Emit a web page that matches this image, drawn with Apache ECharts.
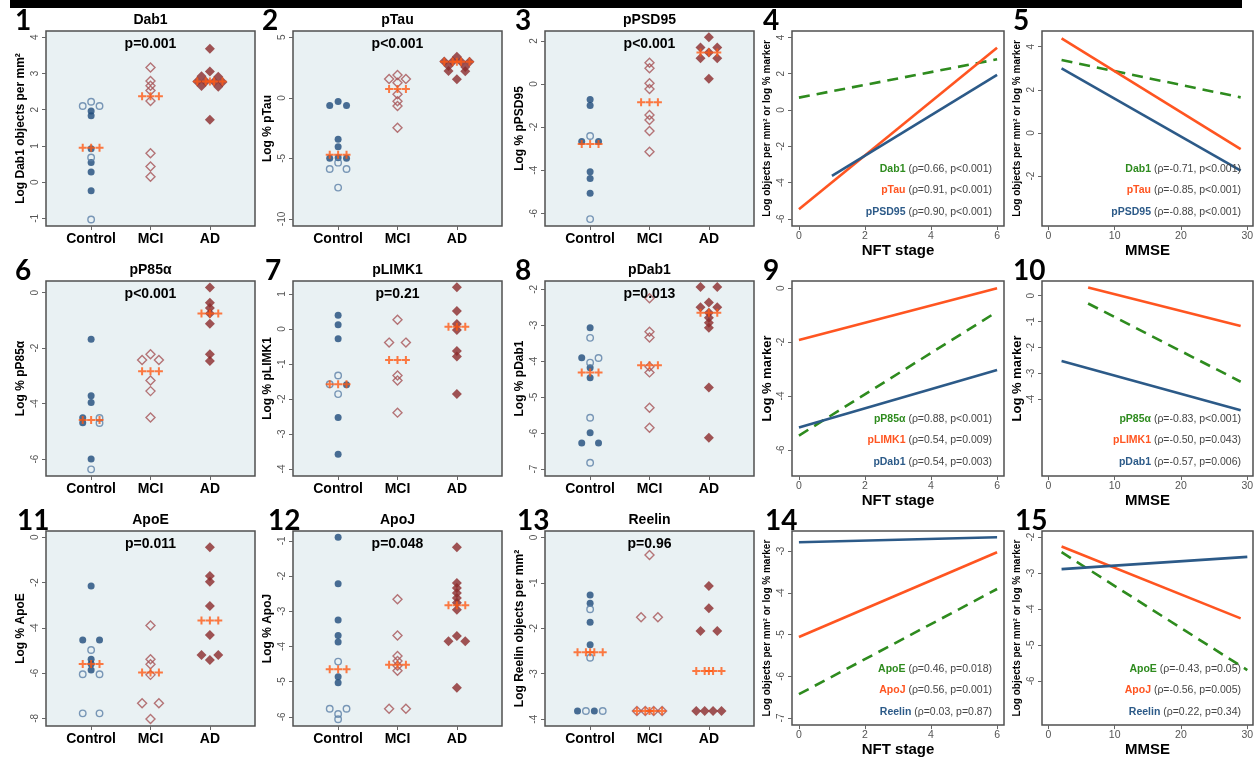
<!DOCTYPE html>
<html><head><meta charset="utf-8">
<script src="https://cdn.jsdelivr.net/npm/echarts@6/dist/echarts.min.js"></script>
<style>html,body{margin:0;padding:0;background:#fff}#c{width:1257px;height:758px}</style>
</head><body><div id="c"></div>
<script>
// ---------- DATA ----------
const groups = ['Control', 'MCI', 'AD'];

// 1 Dab1
const dab1CtrlFilled = [1.96, 1.83, 0.92, 0.54, 0.28, -0.24];
const dab1CtrlOpen = [2.22, 2.10, 2.10, 0.68, -1.03];
const dab1Mci = [3.16, 2.79, 2.66, 2.53, 2.24, 0.80, 0.43, 0.15];
const dab1Ad = [3.68, 3.05, 2.92, 2.91, 2.78, 2.78, 2.77, 2.76, 2.65, 2.63, 1.72];
const dab1Median = [0.95, 2.37, 2.78];
const dab1Ticks = [-1, 0, 1, 2, 3, 4];

// 2 pTau
const ptauCtrlFilled = [-0.30, -0.64, -0.64, -3.42, -4.03, -4.95, -4.99, -4.99];
const ptauCtrlOpen = [-5.35, -5.87, -5.87, -7.41];
const ptauMci = [1.89, 1.56, 1.56, 1.25, 0.29, -0.28, -0.68, -2.46];
const ptauAd = [3.40, 3.00, 3.00, 2.99, 2.98, 2.62, 2.55, 2.22, 2.20, 1.53];
const ptauMedian = [-4.69, 0.73, 2.99];
const ptauTicks = [-10, -5, 0, 5];

// 3 pPSD95
const ppsdCtrlFilled = [-0.72, -1.00, -2.67, -2.67, -4.07, -4.38, -5.07];
const ppsdCtrlOpen = [-2.41, -6.27];
const ppsdMci = [0.99, 0.73, 0.03, -0.23, -1.44, -1.67, -2.18, -3.14];
const ppsdAd = [2.17, 1.69, 1.69, 1.46, 1.20, 1.20, 0.24];
const ppsdMedian = [-2.78, -0.85, 1.46];
const ppsdTicks = [-6, -4, -2, 0, 2];

// 6 pP85α
const pp85CtrlFilled = [-1.68, -3.72, -3.96, -4.51, -4.69, -6.00];
const pp85CtrlOpen = [-4.52, -4.70, -6.37];
const pp85Mci = [-2.22, -2.43, -2.43, -3.17, -3.55, -4.50];
const pp85Ad = [0.19, -0.36, -0.55, -0.75, -1.12, -2.22, -2.46];
const pp85Median = [-4.59, -2.83, -0.75];
const pp85Ticks = [-6, -4, -2, 0];

// 7 pLIMK1
const plimkCtrlFilled = [0.39, 0.12, -0.28, -1.59, -2.53, -3.58];
const plimkCtrlOpen = [-1.33, -1.58, -1.86];
const plimkMci = [0.26, -0.39, -0.39, -1.33, -1.47, -2.39];
const plimkAd = [1.19, 0.51, 0.14, -0.03, -0.63, -0.79, -1.86];
const plimkMedian = [-1.58, -0.89, 0.06];
const plimkTicks = [-4, -3, -2, -1, 0, 1];

// 8 pDab1
const pdabCtrlFilled = [-3.07, -3.90, -4.18, -4.46, -5.99, -6.27, -6.27];
const pdabCtrlOpen = [-3.35, -3.91, -4.04, -5.57, -6.82];
const pdabMci = [-2.25, -3.18, -3.34, -4.15, -4.31, -5.29, -5.85];
const pdabAd = [-1.94, -1.94, -2.37, -2.50, -2.50, -2.65, -2.79, -2.93, -3.07, -4.73, -6.13];
const pdabMedian = [-4.31, -4.11, -2.65];
const pdabTicks = [-7, -6, -5, -4, -3, -2];

// 11 ApoE
const apoeCtrlFilled = [-2.15, -4.54, -4.54, -5.39, -5.60, -5.86];
const apoeCtrlOpen = [-4.98, -6.05, -6.05, -7.78, -7.78];
const apoeMci = [-3.90, -5.39, -5.61, -6.08, -7.33, -7.33, -8.03];
const apoeAd = [-0.44, -1.71, -1.96, -3.03, -4.32, -5.20, -5.20, -5.42];
const apoeMedian = [-5.60, -5.98, -3.68];
const apoeTicks = [-8, -6, -4, -2, 0];

// 12 ApoJ
const apojCtrlFilled = [-0.90, -2.22, -3.25, -3.69, -3.87, -4.86, -5.03];
const apojCtrlOpen = [-4.43, -5.77, -5.77, -5.92, -6.07];
const apojMci = [-2.66, -3.69, -4.27, -4.41, -4.55, -4.69, -5.77, -5.77];
const apojAd = [-1.18, -2.20, -2.34, -2.48, -2.62, -2.76, -2.96, -3.70, -3.85, -3.85, -5.17];
const apojMedian = [-4.65, -4.52, -2.83];
const apojTicks = [-6, -5, -4, -3, -2, -1];

// 13 Reelin
const reelinCtrlFilled = [-1.27, -1.45, -1.87, -2.36, -3.82, -3.82];
const reelinCtrlOpen = [-1.58, -2.65, -3.82, -3.82];
const reelinMci = [-0.39, -1.76, -1.76, -3.82, -3.82, -3.82, -3.82];
const reelinAd = [-1.07, -1.56, -2.06, -2.06, -3.82, -3.82, -3.82, -3.82];
const reelinMedian = [-2.53, -3.82, -2.94];
const reelinTicks = [-4, -3, -2, -1, 0];

// regression lines (x endpoints, y endpoints)
const nftTicks = [0, 2, 4, 6];
const mmseTicks = [0, 10, 20, 30];
// 4
const p4Dab1X = [0, 6], p4Dab1Y = [0.68, 2.79];
const p4PtauX = [0, 6], p4PtauY = [-5.47, 3.43];
const p4PpsdX = [1, 6], p4PpsdY = [-3.63, 1.93];
const p4Stats = ['(ρ=0.66, p<0.001)', '(ρ=0.91, p<0.001)', '(ρ=0.90, p<0.001)'];
const p4Ticks = [-6, -4, -2, 0, 2, 4];
// 5
const p5Dab1X = [2, 29], p5Dab1Y = [3.38, 1.65];
const p5PtauX = [2, 29], p5PtauY = [4.39, -0.75];
const p5PpsdX = [2, 29], p5PpsdY = [3.00, -1.75];
const p5Stats = ['(ρ=-0.71, p<0.001)', '(ρ=-0.85, p<0.001)', '(ρ=-0.88, p<0.001)'];
const p5Ticks = [-2, 0, 2, 4];
// 9
const p9Pp85X = [0, 6], p9Pp85Y = [-5.47, -0.87];
const p9PlimkX = [0, 6], p9PlimkY = [-1.92, 0.0];
const p9PdabX = [0, 6], p9PdabY = [-5.17, -3.03];
const p9Stats = ['(ρ=0.88, p<0.001)', '(ρ=0.54, p=0.009)', '(ρ=0.54, p=0.003)'];
const p9Ticks = [-6, -4, -2, 0];
// 10
const p10Pp85X = [6, 29], p10Pp85Y = [-0.30, -3.33];
const p10PlimkX = [6, 29], p10PlimkY = [0.32, -1.17];
const p10PdabX = [2, 29], p10PdabY = [-2.53, -4.43];
const p10Stats = ['(ρ=-0.83, p<0.001)', '(ρ=-0.50, p=0.043)', '(ρ=-0.57, p=0.006)'];
const p10Ticks = [-4, -3, -2, -1, 0];
// 14
const p14ApoeX = [0, 6], p14ApoeY = [-6.43, -3.91];
const p14ApojX = [0, 6], p14ApojY = [-5.06, -3.03];
const p14ReelinX = [0, 6], p14ReelinY = [-2.79, -2.67];
const p14Stats = ['(ρ=0.46, p=0.018)', '(ρ=0.56, p=0.001)', '(ρ=0.03, p=0.87)'];
const p14Ticks = [-7, -6, -5, -4, -3];
// 15
const p15ApoeX = [2, 30], p15ApoeY = [-2.42, -5.70];
const p15ApojX = [2, 29], p15ApojY = [-2.26, -4.26];
const p15ReelinX = [2, 30], p15ReelinY = [-2.89, -2.55];
const p15Stats = ['(ρ=-0.43, p=0.05)', '(ρ=-0.56, p=0.005)', '(ρ=0.22, p=0.34)'];
const p15Ticks = [-6, -5, -4, -3, -2];

// ---------- STYLE / LAYOUT ----------
const FONT = '"Liberation Sans", Arial, sans-serif';
const GREEN = '#2e8b1e', ORANGE = '#ff5521', BLUE = '#2c5a88';
const CTRL_FILL = '#1e4b7a', CTRL_OPEN = '#5b7fa6', MCI_COL = '#a65456', AD_COL = '#8b2b2b', MED_COL = '#ff5a14';
const PLUS = 'path://M3,0H5V3H8V5H5V8H3V5H0V3H3Z';
const BG = '#e9f1f3';
const COLS = [{l: 46, w: 209}, {l: 293, w: 209}, {l: 545, w: 209}, {l: 792, w: 212}, {l: 1042, w: 211}];
const ROWS = [{t: 31, h: 195}, {t: 281, h: 195}, {t: 531, h: 195}];
const CAT_MIN = 0.24, CAT_MAX = 3.76;
const STEP_PX = 8.4, TOL_PX = 4.5;
const LONG_NAME = 'Log objects per mm² or log % marker';

const dotPanels = [
  {num: '1', nx: 15, r: 0, c: 0, title: 'Dab1', p: 'p=0.001', yName: 'Log Dab1 objects per mm²', yMin: -1.21, yMax: 4.17, ticks: dab1Ticks, sets: [dab1CtrlFilled, dab1CtrlOpen, dab1Mci, dab1Ad], med: dab1Median},
  {num: '2', nx: 262, r: 0, c: 1, title: 'pTau', p: 'p<0.001', yName: 'Log % pTau', yMin: -10.58, yMax: 5.52, ticks: ptauTicks, sets: [ptauCtrlFilled, ptauCtrlOpen, ptauMci, ptauAd], med: ptauMedian},
  {num: '3', nx: 515, r: 0, c: 2, title: 'pPSD95', p: 'p<0.001', yName: 'Log % pPSD95', yMin: -6.59, yMax: 2.46, ticks: ppsdTicks, sets: [ppsdCtrlFilled, ppsdCtrlOpen, ppsdMci, ppsdAd], med: ppsdMedian},
  {num: '6', nx: 15, r: 1, c: 0, title: 'pP85α', p: 'p<0.001', yName: 'Log % pP85α', yMin: -6.61, yMax: 0.42, ticks: pp85Ticks, sets: [pp85CtrlFilled, pp85CtrlOpen, pp85Mci, pp85Ad], med: pp85Median},
  {num: '7', nx: 265, r: 1, c: 1, title: 'pLIMK1', p: 'p=0.21', yName: 'Log % pLIMK1', yMin: -4.2, yMax: 1.37, ticks: plimkTicks, sets: [plimkCtrlFilled, plimkCtrlOpen, plimkMci, plimkAd], med: plimkMedian},
  {num: '8', nx: 515, r: 1, c: 2, title: 'pDab1', p: 'p=0.013', yName: 'Log % pDab1', yMin: -7.19, yMax: -1.77, ticks: pdabTicks, sets: [pdabCtrlFilled, pdabCtrlOpen, pdabMci, pdabAd], med: pdabMedian},
  {num: '11', nx: 17, r: 2, c: 0, title: 'ApoE', p: 'p=0.011', yName: 'Log % ApoE', yMin: -8.34, yMax: 0.28, ticks: apoeTicks, sets: [apoeCtrlFilled, apoeCtrlOpen, apoeMci, apoeAd], med: apoeMedian},
  {num: '12', nx: 268, r: 2, c: 1, title: 'ApoJ', p: 'p=0.048', yName: 'Log % ApoJ', yMin: -6.26, yMax: -0.72, ticks: apojTicks, sets: [apojCtrlFilled, apojCtrlOpen, apojMci, apojAd], med: apojMedian},
  {num: '13', nx: 517, r: 2, c: 2, title: 'Reelin', p: 'p=0.96', yName: 'Log Reelin objects per mm²', yMin: -4.15, yMax: 0.14, ticks: reelinTicks, sets: [reelinCtrlFilled, reelinCtrlOpen, reelinMci, reelinAd], med: reelinMedian}
];

const NFT = {min: -0.21, max: 6.21, ticks: nftTicks, name: 'NFT stage'};
const MMSE = {min: -0.95, max: 30.86, ticks: mmseTicks, name: 'MMSE'};
const linePanels = [
  {num: '4', nx: 763, r: 0, c: 3, ax: NFT, yName: LONG_NAME, yNameSize: 10, yMin: -6.39, yMax: 4.35, ticks: p4Ticks, stats: p4Stats, lines: [
    {name: 'Dab1', x: p4Dab1X, y: p4Dab1Y, color: GREEN, dash: true},
    {name: 'pTau', x: p4PtauX, y: p4PtauY, color: ORANGE},
    {name: 'pPSD95', x: p4PpsdX, y: p4PpsdY, color: BLUE}]},
  {num: '5', nx: 1013, r: 0, c: 4, ax: MMSE, yName: LONG_NAME, yNameSize: 10, yMin: -4.32, yMax: 4.73, ticks: p5Ticks, stats: p5Stats, lines: [
    {name: 'Dab1', x: p5Dab1X, y: p5Dab1Y, color: GREEN, dash: true},
    {name: 'pTau', x: p5PtauX, y: p5PtauY, color: ORANGE},
    {name: 'pPSD95', x: p5PpsdX, y: p5PpsdY, color: BLUE}]},
  {num: '9', nx: 763, r: 1, c: 3, ax: NFT, yName: 'Log % marker', yNameSize: 13, yMin: -6.97, yMax: 0.27, ticks: p9Ticks, stats: p9Stats, lines: [
    {name: 'pP85α', x: p9Pp85X, y: p9Pp85Y, color: GREEN, dash: true},
    {name: 'pLIMK1', x: p9PlimkX, y: p9PlimkY, color: ORANGE},
    {name: 'pDab1', x: p9PdabX, y: p9PdabY, color: BLUE}]},
  {num: '10', nx: 1013, r: 1, c: 4, ax: MMSE, yName: 'Log % marker', yNameSize: 13, yMin: -6.98, yMax: 0.57, ticks: p10Ticks, stats: p10Stats, lines: [
    {name: 'pP85α', x: p10Pp85X, y: p10Pp85Y, color: GREEN, dash: true},
    {name: 'pLIMK1', x: p10PlimkX, y: p10PlimkY, color: ORANGE},
    {name: 'pDab1', x: p10PdabX, y: p10PdabY, color: BLUE}]},
  {num: '14', nx: 765, r: 2, c: 3, ax: NFT, yName: LONG_NAME, yNameSize: 10, yMin: -7.17, yMax: -2.52, ticks: p14Ticks, stats: p14Stats, lines: [
    {name: 'ApoE', x: p14ApoeX, y: p14ApoeY, color: GREEN, dash: true},
    {name: 'ApoJ', x: p14ApojX, y: p14ApojY, color: ORANGE},
    {name: 'Reelin', x: p14ReelinX, y: p14ReelinY, color: BLUE}]},
  {num: '15', nx: 1015, r: 2, c: 4, ax: MMSE, yName: LONG_NAME, yNameSize: 10, yMin: -7.23, yMax: -1.83, ticks: p15Ticks, stats: p15Stats, lines: [
    {name: 'ApoE', x: p15ApoeX, y: p15ApoeY, color: GREEN, dash: true},
    {name: 'ApoJ', x: p15ApojX, y: p15ApojY, color: ORANGE},
    {name: 'Reelin', x: p15ReelinX, y: p15ReelinY, color: BLUE}]}
];

// ---------- dotplot layout (Stata-like row spreading) ----------
function slotOffsets(n) {
  if (n === 1) return [0];
  if (n === 2) return [-1, 1];
  if (n % 2 === 1) { const s = [0]; for (let k = 1; k <= (n - 1) / 2; k++) s.push(-k, k); return s; }
  const s = []; for (let i = 0; i < n; i++) s.push(i - (n - 1) / 2); return s;
}
function interleave(pts) {
  // alternate marker kinds inside wide rows
  const kinds = {}; pts.forEach(d => (kinds[d.k] = kinds[d.k] || []).push(d));
  const lists = Object.values(kinds); const out = [];
  for (let i = 0; out.length < pts.length; i++) lists.forEach(l => { if (l[i]) out.push(l[i]); });
  return out;
}
function layoutGroup(items, tol) {
  const sorted = items.map((d, i) => Object.assign({i}, d)).sort((a, b) => (b.v - a.v) || (a.i - b.i));
  const rows = []; let cur = null;
  sorted.forEach(d => {
    if (cur && cur.start - d.v <= tol + 1e-9) cur.pts.push(d);
    else { cur = {start: d.v, pts: [d]}; rows.push(cur); }
  });
  const out = []; let widest = 1;
  rows.forEach(r => {
    const n = r.pts.length; widest = Math.max(widest, n);
    const sl = slotOffsets(n);
    const pts = n >= 4 ? interleave(r.pts) : r.pts;
    pts.forEach((d, k) => out.push(Object.assign({}, d, {off: sl[k]})));
  });
  return {pts: out, widest};
}
function plusOffsets(widest) {
  if (widest >= 4) { const s = slotOffsets(widest).slice(); if (s.indexOf(0) < 0) s.push(0); return s; }
  return [-1, 0, 1];
}

// ---------- build option ----------
const grid = [], xAxis = [], yAxis = [], series = [], graphic = [];
graphic.push({type: 'rect', shape: {x: 10, y: 0, width: 1232, height: 8}, style: {fill: '#000'}, silent: true});

function txt(x, y, text, font, fill, align) {
  graphic.push({type: 'text', x, y, silent: true, z: 10,
    style: {text, font, fill: fill || '#000', textAlign: align || 'left', align: align || 'left', textVerticalAlign: 'middle', verticalAlign: 'middle'}});
}
function yAxisCfg(gi, p, name, nameSize) {
  return {gridIndex: gi, type: 'value', min: p.yMin, max: p.yMax, name, nameLocation: 'middle', nameRotate: 90,
    nameGap: 25 - nameSize / 2, nameTextStyle: {fontFamily: FONT, fontWeight: 'bold', fontSize: nameSize, color: '#000'},
    axisLine: {show: false, onZero: false}, splitLine: {show: false},
    axisTick: {show: true, customValues: p.ticks, length: 4, lineStyle: {color: '#666', width: 1}},
    axisLabel: {customValues: p.ticks, rotate: 90, fontSize: 10, color: '#555', margin: 6, fontFamily: FONT}};
}

dotPanels.forEach(p => {
  const col = COLS[p.c], row = ROWS[p.r];
  grid.push({left: col.l, top: row.t, width: col.w, height: row.h, show: true, backgroundColor: BG, borderColor: '#505050', borderWidth: 1.5});
  const gi = grid.length - 1;
  xAxis.push({gridIndex: gi, type: 'value', min: CAT_MIN, max: CAT_MAX, axisLine: {show: false, onZero: false}, splitLine: {show: false},
    axisTick: {show: true, customValues: [1, 2, 3], length: 4, lineStyle: {color: '#666'}},
    axisLabel: {customValues: [1, 2, 3], formatter: v => groups[Math.round(v) - 1], fontFamily: FONT, fontWeight: 'bold', fontSize: 14, color: '#000', margin: 6}});
  yAxis.push(yAxisCfg(gi, p, p.yName, 12));
  const pxPerY = row.h / (p.yMax - p.yMin);
  const tol = TOL_PX / pxPerY;
  const step = STEP_PX / (col.w / (CAT_MAX - CAT_MIN));
  const [cf, co, mci, ad] = p.sets;
  const ctrl = layoutGroup(cf.map(v => ({v, k: 'f'})).concat(co.map(v => ({v, k: 'o'}))), tol);
  const gm = layoutGroup(mci.map(v => ({v, k: 'm'})), tol);
  const ga = layoutGroup(ad.map(v => ({v, k: 'a'})), tol);
  const base = {type: 'scatter', xAxisIndex: gi, yAxisIndex: gi, silent: true, clip: false};
  series.push(Object.assign({}, base, {symbol: 'circle', symbolSize: 7, itemStyle: {color: CTRL_FILL},
    data: ctrl.pts.filter(d => d.k === 'f').map(d => [1 + d.off * step, d.v])}));
  series.push(Object.assign({}, base, {symbol: 'circle', symbolSize: 6.5, itemStyle: {color: 'rgba(0,0,0,0)', borderColor: CTRL_OPEN, borderWidth: 1.4},
    data: ctrl.pts.filter(d => d.k === 'o').map(d => [1 + d.off * step, d.v])}));
  series.push(Object.assign({}, base, {symbol: 'diamond', symbolSize: 9, itemStyle: {color: 'rgba(0,0,0,0)', borderColor: MCI_COL, borderWidth: 1.4},
    data: gm.pts.map(d => [2 + d.off * step, d.v])}));
  series.push(Object.assign({}, base, {symbol: 'diamond', symbolSize: 10, itemStyle: {color: AD_COL},
    data: ga.pts.map(d => [3 + d.off * step, d.v])}));
  const medData = [];
  [ctrl, gm, ga].forEach((g, i) => plusOffsets(g.widest).forEach(o => medData.push([i + 1 + o * step, p.med[i]])));
  series.push(Object.assign({}, base, {symbol: PLUS, symbolSize: 8, z: 5, itemStyle: {color: MED_COL}, data: medData}));
  // texts
  const cx = col.l + col.w / 2;
  txt(p.nx, row.t - 10, p.num, 'bold 28px Lato, "Open Sans", sans-serif');
  txt(cx, row.t - 11, p.title, 'bold 14px ' + FONT, '#000', 'center');
  txt(cx, row.t + 13, p.p, 'bold 14px ' + FONT, '#000', 'center');
});

linePanels.forEach(p => {
  const col = COLS[p.c], row = ROWS[p.r];
  grid.push({left: col.l, top: row.t, width: col.w, height: row.h, show: true, backgroundColor: '#fff', borderColor: '#505050', borderWidth: 1.5});
  const gi = grid.length - 1;
  xAxis.push({gridIndex: gi, type: 'value', min: p.ax.min, max: p.ax.max, name: p.ax.name, nameLocation: 'middle', nameGap: 16,
    nameTextStyle: {fontFamily: FONT, fontWeight: 'bold', fontSize: 15, color: '#000', verticalAlign: 'top'},
    axisLine: {show: false, onZero: false}, splitLine: {show: false},
    axisTick: {show: true, customValues: p.ax.ticks, length: 4, lineStyle: {color: '#666'}},
    axisLabel: {customValues: p.ax.ticks, fontSize: 10.5, color: '#555', margin: 5, fontFamily: FONT}});
  yAxis.push(yAxisCfg(gi, p, p.yName, p.yNameSize));
  p.lines.forEach(l => {
    series.push({type: 'line', xAxisIndex: gi, yAxisIndex: gi, silent: true, showSymbol: false, symbol: 'none',
      data: l.x.map((x, i) => [x, l.y[i]]),
      lineStyle: {color: l.color, width: 2.6, type: l.dash ? [11, 7] : 'solid', cap: 'butt'}});
  });
  txt(p.nx, row.t - 10, p.num, 'bold 28px Lato, "Open Sans", sans-serif');
  const rx = col.l + col.w - 12;
  p.lines.forEach((l, k) => {
    graphic.push({type: 'text', x: rx, y: row.t + 138 + 21.5 * k, silent: true, z: 10,
      style: {text: '{n|' + l.name + '}{s| ' + p.stats[k] + '}', textAlign: 'right', align: 'right', textVerticalAlign: 'middle', verticalAlign: 'middle',
        font: '10.5px ' + FONT, fill: '#444',
        rich: {n: {fontFamily: FONT, fontWeight: 'bold', fontSize: 10.5, fill: l.color, color: l.color},
               s: {fontFamily: FONT, fontSize: 10.5, fill: '#444', color: '#444'}}}});
  });
});

const chart = echarts.init(document.getElementById('c'), null, {renderer: 'canvas'});
chart.setOption({animation: false, backgroundColor: '#fff', grid, xAxis, yAxis, series, graphic});
</script></body></html>
